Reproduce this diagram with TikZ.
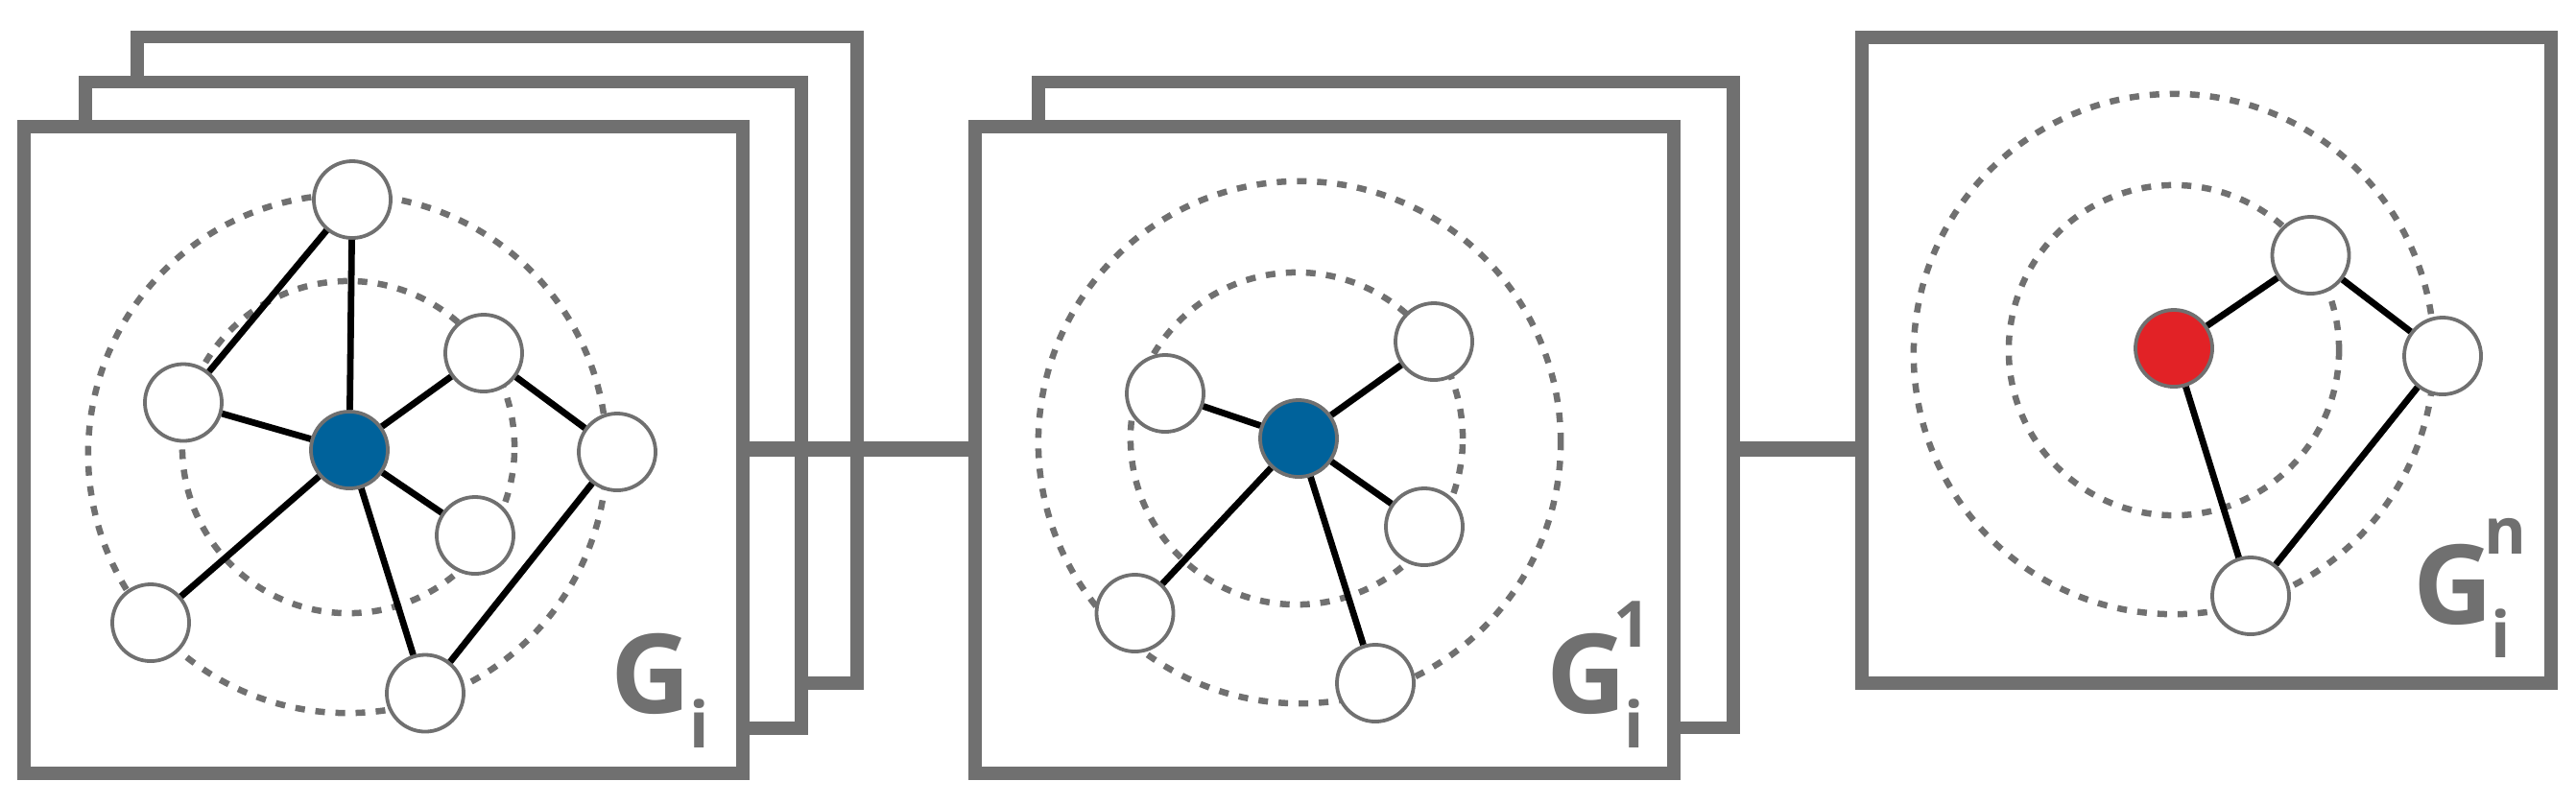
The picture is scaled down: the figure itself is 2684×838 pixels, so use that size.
\documentclass[tikz,border=0pt]{standalone}
\usepackage{fontspec}
\newfontfamily\labfont{Open Sans}
\newcommand\scriptfs{\fontsize{19pt}{19pt}\selectfont}
\definecolor{boxgray}{HTML}{707070}
\definecolor{nodeblue}{HTML}{00629B}
\definecolor{nodered}{HTML}{E22226}
\tikzset{
  frame/.style={draw=boxgray, line width=0.135cm, fill=white, rectangle, inner sep=0pt},
  link/.style={draw=boxgray, line width=0.16cm},
  ring/.style={draw=boxgray, line width=0.065cm, dash pattern=on 0.10cm off 0.11cm},
  edge/.style={draw=black, line width=0.068cm},
  vert/.style={circle, draw=boxgray, line width=0.038cm, fill=white, minimum size=0.80cm, inner sep=0pt},
  bluev/.style={vert, fill=nodeblue},
  redv/.style={vert, fill=nodered},
  bigG/.style={anchor=base, inner sep=0pt, text=boxgray, font=\labfont\bfseries\fontsize{32.7pt}{32.7pt}\selectfont}
}
\begin{document}
\begin{tikzpicture}[x=0.01cm, y=-0.01cm]
\useasboundingbox (0,0) rectangle (2684,838);
% ---------- panel 1 boxes ----------
\node[frame, minimum width=7.50cm, minimum height=6.735cm] (boxC) at (518,375.25) {};
\node[frame, minimum width=7.46cm, minimum height=6.73cm] (boxB) at (462,422.1) {};
\node[frame, minimum width=7.49cm, minimum height=6.74cm] (boxA) at (399.5,469) {};
% ---------- panel 2 boxes ----------
\node[frame, minimum width=7.24cm, minimum height=6.73cm] (boxE) at (1444,422) {};
\node[frame, minimum width=7.28cm, minimum height=6.74cm] (boxD) at (1380,469) {};
% ---------- panel 3 box ----------
\node[frame, minimum width=7.18cm, minimum height=6.73cm] (boxF) at (2299,375.5) {};
% ---------- connectors ----------
\coordinate (j1) at (774,468);
\draw[link] (boxA.east |- j1) -- (boxD.west |- j1);
\draw[link] (boxE.east |- j1) -- (boxF.west |- j1);
% ---------- panel 1 graph ----------
\draw[ring] (362,473) circle[radius=2.70cm];
\draw[ring] (363,466) circle[radius=1.73cm];
\node[bluev] (p1c) at (364,469) {};
\node[vert] (p1t) at (367,208) {};
\node[vert] (p1l) at (191,419.5) {};
\node[vert] (p1ur) at (504,368) {};
\node[vert] (p1fr) at (643,471) {};
\node[vert] (p1lr) at (495,558) {};
\node[vert] (p1bl) at (157,649) {};
\node[vert] (p1b) at (443,722.5) {};
\draw[edge] (p1t) -- (p1l);
\draw[edge] (p1t) -- (p1c);
\draw[edge] (p1l) -- (p1c);
\draw[edge] (p1c) -- (p1ur);
\draw[edge] (p1ur) -- (p1fr);
\draw[edge] (p1c) -- (p1lr);
\draw[edge] (p1c) -- (p1bl);
\draw[edge] (p1c) -- (p1b);
\draw[edge] (p1b) -- (p1fr);
\node[bigG] (g1) at (678.5,743) {\makebox[0pt]{G}\makebox[0pt]{\hspace{1.00cm}\raisebox{-0.36cm}{\scriptfs i}}};
% ---------- panel 2 graph ----------
\draw[ring] (1354,461) circle[radius=2.72cm];
\draw[ring] (1351,457) circle[radius=1.73cm];
\node[bluev] (p2c) at (1353,457) {};
\node[vert] (p2ul) at (1214,410) {};
\node[vert] (p2ur) at (1494,356) {};
\node[vert] (p2lr) at (1484,549) {};
\node[vert] (p2bl) at (1182.5,639) {};
\node[vert] (p2b) at (1433,712) {};
\draw[edge] (p2c) -- (p2ul);
\draw[edge] (p2c) -- (p2ur);
\draw[edge] (p2c) -- (p2lr);
\draw[edge] (p2c) -- (p2bl);
\draw[edge] (p2c) -- (p2b);
\node[bigG] (g2) at (1653,743) {\makebox[0pt]{G}\makebox[0pt]{\hspace{0.96cm}\raisebox{0.68cm}{\scriptfs 1}}\makebox[0pt]{\hspace{1.00cm}\raisebox{-0.36cm}{\scriptfs i}}};
% ---------- panel 3 graph ----------
\draw[ring] (2265,369) circle[radius=2.71cm];
\draw[ring] (2265,365) circle[radius=1.72cm];
\node[redv] (p3c) at (2265,363) {};
\node[vert] (p3t) at (2407.5,266) {};
\node[vert] (p3r) at (2545,371) {};
\node[vert] (p3b) at (2345,621) {};
\draw[edge] (p3c) -- (p3t);
\draw[edge] (p3t) -- (p3r);
\draw[edge] (p3r) -- (p3b);
\draw[edge] (p3c) -- (p3b);
\node[bigG] (g3) at (2556,650) {\makebox[0pt]{G}\makebox[0pt]{\hspace{1.08cm}\raisebox{0.72cm}{\scriptfs n}}\makebox[0pt]{\hspace{0.99cm}\raisebox{-0.35cm}{\scriptfs i}}};
\end{tikzpicture}
\end{document}
